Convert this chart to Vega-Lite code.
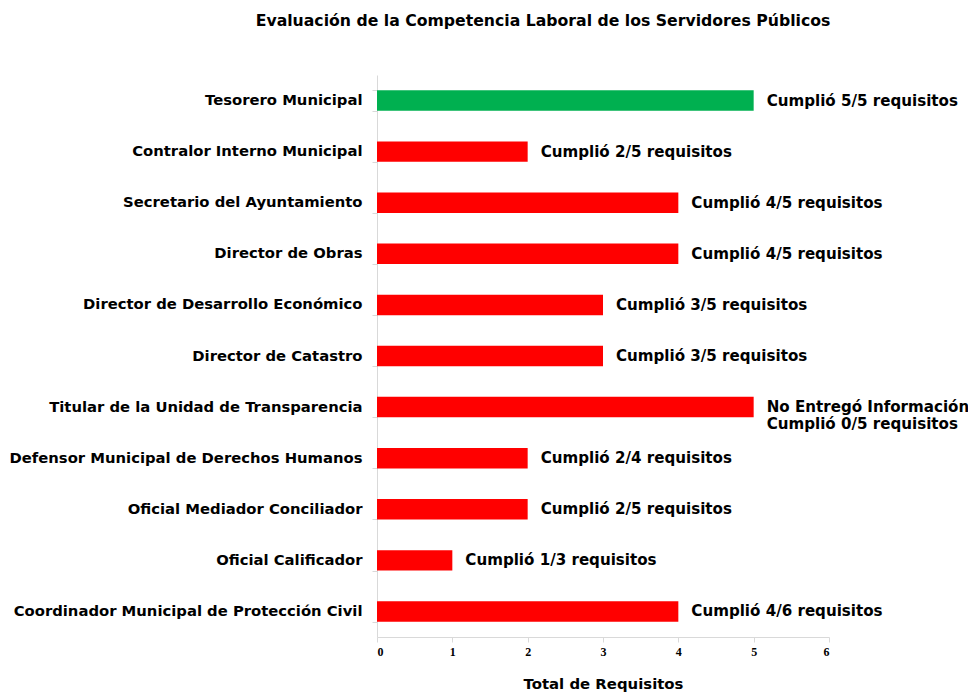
{
  "$schema": "https://vega.github.io/schema/vega-lite/v6.json",
  "autosize": "none",
  "width": 452,
  "height": 562,
  "padding": {"left": 377, "top": 75, "right": 139, "bottom": 55},
  "background": "white",
  "title": {
    "text": "Evaluación de la Competencia Laboral de los Servidores Públicos",
    "font": "DejaVu Sans",
    "fontSize": 15.7,
    "fontWeight": "bold",
    "color": "#000000",
    "anchor": "middle",
    "dx": -60,
    "offset": 37
  },
  "data": {
    "values": [
      {"cargo": "Tesorero Municipal", "requisitos": 5, "estado": "Cumplió", "etiqueta": "Cumplió 5/5 requisitos"},
      {"cargo": "Contralor Interno Municipal", "requisitos": 2, "estado": "No cumplió", "etiqueta": "Cumplió 2/5 requisitos"},
      {"cargo": "Secretario del Ayuntamiento", "requisitos": 4, "estado": "No cumplió", "etiqueta": "Cumplió 4/5 requisitos"},
      {"cargo": "Director de Obras", "requisitos": 4, "estado": "No cumplió", "etiqueta": "Cumplió 4/5 requisitos"},
      {"cargo": "Director de Desarrollo Económico", "requisitos": 3, "estado": "No cumplió", "etiqueta": "Cumplió 3/5 requisitos"},
      {"cargo": "Director de Catastro", "requisitos": 3, "estado": "No cumplió", "etiqueta": "Cumplió 3/5 requisitos"},
      {"cargo": "Titular de la Unidad de Transparencia", "requisitos": 5, "estado": "No cumplió", "etiqueta": "No Entregó Información\nCumplió 0/5 requisitos"},
      {"cargo": "Defensor Municipal de Derechos Humanos", "requisitos": 2, "estado": "No cumplió", "etiqueta": "Cumplió 2/4 requisitos"},
      {"cargo": "Oficial Mediador Conciliador", "requisitos": 2, "estado": "No cumplió", "etiqueta": "Cumplió 2/5 requisitos"},
      {"cargo": "Oficial Calificador", "requisitos": 1, "estado": "No cumplió", "etiqueta": "Cumplió 1/3 requisitos"},
      {"cargo": "Coordinador Municipal de Protección Civil", "requisitos": 4, "estado": "No cumplió", "etiqueta": "Cumplió 4/6 requisitos"}
    ]
  },
  "encoding": {
    "y": {
      "field": "cargo",
      "type": "nominal",
      "sort": null,
      "scale": {"paddingInner": 0.6, "paddingOuter": 0.3},
      "axis": {
        "title": null,
        "labelFont": "DejaVu Sans",
        "labelFontSize": 14.8,
        "labelFontWeight": "bold",
        "labelColor": "#000000",
        "labelPadding": 10,
        "labelLimit": 400,
        "tickBand": "extent",
        "tickColor": "#d9d9d9",
        "tickSize": 5,
        "domainColor": "#d9d9d9",
        "grid": false
      }
    },
    "x": {
      "field": "requisitos",
      "type": "quantitative",
      "scale": {"domain": [0, 6]},
      "axis": {
        "title": "Total de Requisitos",
        "titleFont": "DejaVu Sans",
        "titleFontSize": 14.9,
        "titleFontWeight": "bold",
        "titleColor": "#000000",
        "titlePadding": 19,
        "values": [0, 1, 2, 3, 4, 5, 6],
        "format": "d",
        "labelFont": "Liberation Serif",
        "labelFontSize": 12,
        "labelFontWeight": "bold",
        "labelColor": "#000000",
        "labelPadding": 4,
        "tickColor": "#d9d9d9",
        "tickSize": 5,
        "domainColor": "#d9d9d9",
        "grid": false
      }
    }
  },
  "layer": [
    {
      "mark": {"type": "bar"},
      "encoding": {
        "color": {
          "field": "estado",
          "type": "nominal",
          "scale": {"domain": ["Cumplió", "No cumplió"], "range": ["#00B050", "#FF0000"]},
          "legend": null
        }
      }
    },
    {
      "mark": {
        "type": "text",
        "align": "left",
        "baseline": "middle",
        "dx": 13,
        "font": "DejaVu Sans",
        "fontSize": 15.1,
        "fontWeight": "bold",
        "color": "#000000",
        "lineBreak": "\n",
        "lineHeight": 17
      },
      "encoding": {
        "text": {"field": "etiqueta"}
      }
    }
  ],
  "config": {"view": {"stroke": null}}
}
